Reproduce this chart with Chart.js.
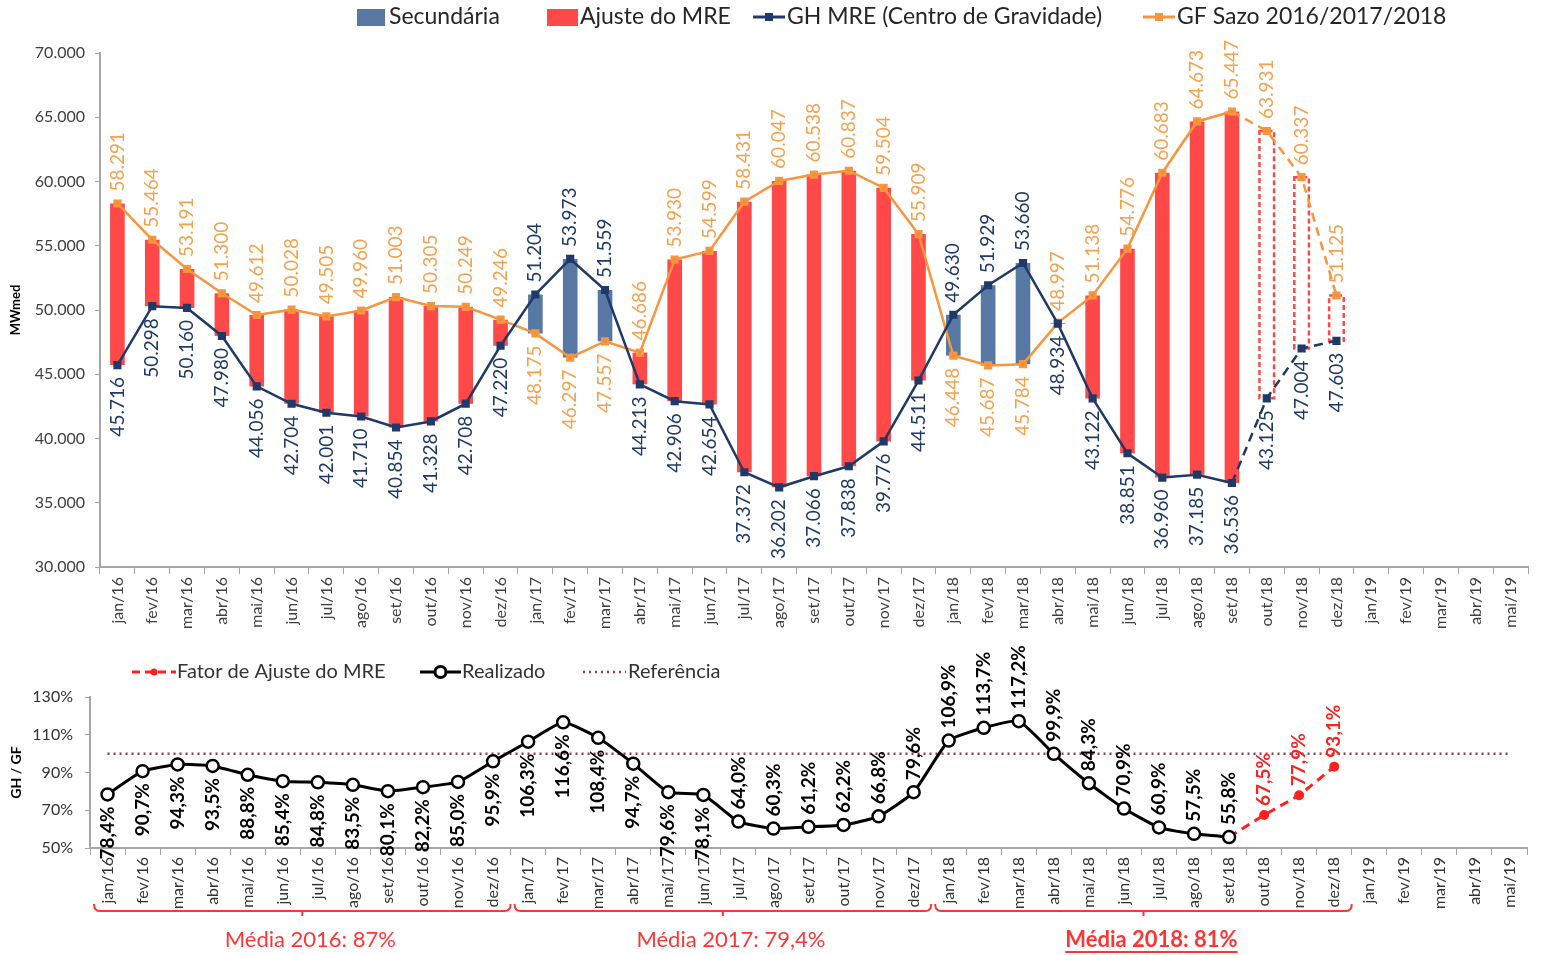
<!doctype html>
<html lang="pt-BR">
<head>
<meta charset="utf-8">
<title>GH MRE x GF Sazo</title>
<script src="https://cdn.jsdelivr.net/npm/chart.js@4.4.1/dist/chart.umd.min.js"></script>
<style>
  html, body { margin: 0; padding: 0; background: #fff; }
  #wrap { position: relative; width: 1542px; height: 955px; overflow: hidden; }
  #topo { position: absolute; left: 0; top: 0; }
  #base { position: absolute; left: 0; top: 645px; }
</style>
</head>
<body>
<div id="wrap">
  <canvas id="topo" width="1542" height="645"></canvas>
  <canvas id="base" width="1542" height="310"></canvas>
</div>
<script>
// meses do eixo x (os dois graficos usam os mesmos)
const meses = ['jan/16','fev/16','mar/16','abr/16','mai/16','jun/16','jul/16','ago/16','set/16','out/16','nov/16','dez/16',
               'jan/17','fev/17','mar/17','abr/17','mai/17','jun/17','jul/17','ago/17','set/17','out/17','nov/17','dez/17',
               'jan/18','fev/18','mar/18','abr/18','mai/18','jun/18','jul/18','ago/18','set/18','out/18','nov/18','dez/18',
               'jan/19','fev/19','mar/19','abr/19','mai/19'];

// MWmed
const gfSazo = [58291, 55464, 53191, 51300, 49612, 50028, 49505, 49960, 51003, 50305, 50249, 49246,
                48175, 46297, 47557, 46686, 53930, 54599, 58431, 60047, 60538, 60837, 59504, 55909,
                46448, 45687, 45784, 48997, 51138, 54776, 60683, 64673, 65447, 63931, 60337, 51125];
const ghMre  = [45716, 50298, 50160, 47980, 44056, 42704, 42001, 41710, 40854, 41328, 42708, 47220,
                51204, 53973, 51559, 44213, 42906, 42654, 37372, 36202, 37066, 37838, 39776, 44511,
                49630, 51929, 53660, 48934, 43122, 38851, 36960, 37185, 36536, 43125, 47004, 47603];
const ultimoRealizado = 32; // set/18, depois disso e projecao

// GH / GF (%)
const realizado = [78.4, 90.7, 94.3, 93.5, 88.8, 85.4, 84.8, 83.5, 80.1, 82.2, 85.0, 95.9,
                   106.3, 116.6, 108.4, 94.7, 79.6, 78.1, 64.0, 60.3, 61.2, 62.2, 66.8, 79.6,
                   106.9, 113.7, 117.2, 99.9, 84.3, 70.9, 60.9, 57.5, 55.8];
const fatorMeses = ['set/18', 'out/18', 'nov/18', 'dez/18'];
const fatorValores = [55.8, 67.5, 77.9, 93.1];
const referencia = 100;

const mediaTextos = ['Média 2016: 87%', 'Média 2017: 79,4%', 'Média 2018: 81%'];
const mediaInicio = ['jan/16', 'jan/17', 'jan/18'];
const mediaFim    = ['dez/16', 'dez/17', 'dez/18'];

const VERMELHO = '#FF4949', AZUL = '#5878A4', MARINHO = '#1F3A68', LARANJA = '#F7963F', LAR_TXT = '#F5A24F';
const FONTE = 'Lato, "Open Sans", sans-serif';

function milhar(n) { return String(n).replace(/\B(?=(\d{3})+(?!\d))/g, '.'); }
function pct(v) { return v.toFixed(1).replace('.', ',') + '%'; }

function rotulo(ctx, x, y, s, acima, cor, d) {
  ctx.save();
  ctx.translate(x, y);
  ctx.rotate(-Math.PI / 2);
  ctx.fillStyle = cor;
  ctx.textBaseline = 'middle';
  ctx.textAlign = acima ? 'left' : 'right';
  ctx.fillText(s, acima ? d : -d, 0);
  ctx.restore();
}

// ---------- grafico de cima ----------
const barrasAjuste = gfSazo.map((v, i) => (i <= ultimoRealizado && v >= ghMre[i]) ? [ghMre[i], v] : null);
const barrasSecund = gfSazo.map((v, i) => (i <= ultimoRealizado && v < ghMre[i]) ? [v, ghMre[i]] : null);
const barrasProj   = gfSazo.map((v, i) => i > ultimoRealizado ? [ghMre[i], v] : null);
const tracejado = c => c.p0DataIndex >= ultimoRealizado ? [9, 6] : undefined;

const barraTracejada = {
  id: 'barraTracejada',
  afterDatasetDraw(chart, args) {
    if (args.index !== 2) return;
    const ctx = chart.ctx;
    ctx.save();
    ctx.strokeStyle = VERMELHO;
    ctx.lineWidth = 2.5;
    ctx.setLineDash([5, 3]);
    args.meta.data.forEach((b, i) => {
      if (!barrasProj[i]) return;
      const t = Math.min(b.y, b.base), h = Math.abs(b.base - b.y);
      ctx.strokeRect(b.x - b.width / 2, t, b.width, h);
    });
    ctx.restore();
  }
};

const rotulosTopo = {
  id: 'rotulosTopo',
  afterDatasetsDraw(chart) {
    const ctx = chart.ctx;
    const gh = chart.getDatasetMeta(3).data;
    const gf = chart.getDatasetMeta(4).data;
    ctx.save();
    ctx.font = '19px ' + FONTE;
    gfSazo.forEach((v, i) => {
      const acima = v >= ghMre[i];
      rotulo(ctx, gf[i].x, gf[i].y, milhar(v), acima, LAR_TXT, 12);
      rotulo(ctx, gh[i].x, gh[i].y, milhar(ghMre[i]), !acima, MARINHO, 12);
    });
    ctx.restore();
  }
};

const legendaTopo = {
  id: 'legendaTopo',
  afterDraw(chart) {
    const ctx = chart.ctx, y = 17;
    ctx.save();
    ctx.font = '23px ' + FONTE;
    ctx.textBaseline = 'middle';
    ctx.fillStyle = AZUL; ctx.fillRect(357, 9, 28, 17);
    ctx.fillStyle = VERMELHO; ctx.fillRect(547, 9, 31, 17);
    [[MARINHO, 753], [LARANJA, 1143]].forEach(([c, x]) => {
      ctx.strokeStyle = c; ctx.lineWidth = 3;
      ctx.beginPath(); ctx.moveTo(x, y); ctx.lineTo(x + 32, y); ctx.stroke();
      ctx.fillStyle = c; ctx.fillRect(x + 12, y - 4, 8, 8);
    });
    ctx.fillStyle = '#262626';
    ctx.fillText('Secundária', 389, y);
    ctx.fillText('Ajuste do MRE', 580, y);
    ctx.fillText('GH MRE (Centro de Gravidade)', 787, y);
    ctx.fillText('GF Sazo 2016/2017/2018', 1177, y);
    ctx.restore();
  }
};

new Chart(document.getElementById('topo'), {
  type: 'bar',
  data: {
    labels: meses,
    datasets: [
      { label: 'Ajuste do MRE', data: barrasAjuste, backgroundColor: VERMELHO, grouped: false, order: 3,
        categoryPercentage: 1, barPercentage: 0.42 },
      { label: 'Secundária', data: barrasSecund, backgroundColor: AZUL, grouped: false, order: 3,
        categoryPercentage: 1, barPercentage: 0.42 },
      { label: 'Projeção', data: barrasProj, backgroundColor: '#ffffff', grouped: false, order: 2,
        categoryPercentage: 1, barPercentage: 0.42 },
      { type: 'line', label: 'GH MRE (Centro de Gravidade)', data: ghMre, borderColor: MARINHO, backgroundColor: MARINHO,
        borderWidth: 2.5, pointStyle: 'rect', pointRadius: 4, order: 1, segment: { borderDash: tracejado } },
      { type: 'line', label: 'GF Sazo 2016/2017/2018', data: gfSazo, borderColor: LARANJA, backgroundColor: '#EE8F36',
        borderWidth: 2.5, pointStyle: 'rect', pointRadius: 4, order: 1, segment: { borderDash: tracejado } }
    ]
  },
  options: {
    responsive: false,
    animation: false,
    devicePixelRatio: 1,
    layout: { padding: { top: 53, right: 14, bottom: 8, left: 0 } },
    plugins: { legend: { display: false }, tooltip: { enabled: false } },
    scales: {
      x: {
        offset: true,
        grid: { display: true, drawOnChartArea: false, offset: true, tickLength: 7, color: '#A6A6A6' },
        border: { color: '#A6A6A6', width: 2 },
        ticks: { autoSkip: false, minRotation: 90, maxRotation: 90, padding: 3, color: '#404040',
                 font: { family: FONTE, size: 16 } },
        afterFit(s) { s.height = 70; }
      },
      y: {
        min: 30000, max: 70000,
        grid: { display: true, drawOnChartArea: false, tickLength: 5, color: '#A6A6A6' },
        border: { color: '#A6A6A6', width: 2 },
        ticks: { stepSize: 5000, padding: 10, color: '#404040', font: { family: FONTE, size: 16 },
                 callback: v => milhar(v) },
        title: { display: true, text: 'MWmed', color: '#000', font: { family: FONTE, size: 13, weight: 'bold' },
                 padding: { top: 8, bottom: 0 } },
        afterFit(s) { s.width = 100; }
      }
    }
  },
  plugins: [barraTracejada, rotulosTopo, legendaTopo]
});

// ---------- grafico de baixo ----------
const rotulosBase = {
  id: 'rotulosBase',
  afterDatasetsDraw(chart) {
    const ctx = chart.ctx;
    const pr = chart.getDatasetMeta(1).data;
    const pf = chart.getDatasetMeta(2).data;
    ctx.save();
    ctx.font = 'bold 19px ' + FONTE;
    realizado.forEach((v, i) => {
      rotulo(ctx, pr[i].x, pr[i].y, pct(v), i >= 18, '#000', 12);
    });
    fatorValores.forEach((v, i) => {
      if (i === 0) return;
      rotulo(ctx, pf[i].x, pf[i].y, pct(v), true, '#FF2020', 9);
    });
    ctx.restore();
  }
};

const legendaBase = {
  id: 'legendaBase',
  afterDraw(chart) {
    const ctx = chart.ctx, y = 27;
    ctx.save();
    ctx.lineWidth = 3;
    // fator
    ctx.strokeStyle = '#FF2020'; ctx.setLineDash([8, 5]);
    ctx.beginPath(); ctx.moveTo(132, y); ctx.lineTo(176, y); ctx.stroke();
    ctx.setLineDash([]);
    ctx.fillStyle = '#FF2020'; ctx.beginPath(); ctx.arc(154, y, 3.5, 0, Math.PI * 2); ctx.fill();
    // realizado
    ctx.strokeStyle = '#000';
    ctx.beginPath(); ctx.moveTo(420, y); ctx.lineTo(461, y); ctx.stroke();
    ctx.fillStyle = '#fff'; ctx.beginPath(); ctx.arc(440.5, y, 5.5, 0, Math.PI * 2); ctx.fill(); ctx.stroke();
    // referencia
    ctx.strokeStyle = '#8E3F45'; ctx.lineWidth = 2.5; ctx.setLineDash([2, 4]);
    ctx.beginPath(); ctx.moveTo(583, y); ctx.lineTo(626, y); ctx.stroke();
    ctx.setLineDash([]);
    ctx.font = '20px ' + FONTE; ctx.fillStyle = '#333'; ctx.textBaseline = 'middle';
    ctx.fillText('Fator de Ajuste do MRE', 177, y);
    ctx.fillText('Realizado', 462, y);
    ctx.fillText('Referência', 628, y);
    ctx.restore();
  }
};

const chavesMedia = {
  id: 'chavesMedia',
  afterDraw(chart) {
    const ctx = chart.ctx, x = chart.scales.x, yl = chart.chartArea.bottom + 63;
    const meio = x.getPixelForValue(1) - x.getPixelForValue(0);
    ctx.save();
    ctx.strokeStyle = '#FF3535'; ctx.fillStyle = '#FF3535'; ctx.lineWidth = 2;
    mediaTextos.forEach((t, k) => {
      const a = x.getPixelForValue(meses.indexOf(mediaInicio[k])) - meio / 2 + 4;
      const b = x.getPixelForValue(meses.indexOf(mediaFim[k])) + meio / 2;
      const c = (a + b) / 2;
      ctx.beginPath();
      ctx.moveTo(a, yl - 7); ctx.quadraticCurveTo(a, yl, a + 6, yl);
      ctx.lineTo(b - 6, yl); ctx.quadraticCurveTo(b, yl, b, yl - 7);
      ctx.moveTo(c, yl); ctx.lineTo(c, yl + 5);
      ctx.stroke();
      ctx.font = (k === 2 ? 'bold ' : '') + '22px ' + FONTE;
      ctx.textAlign = 'center'; ctx.textBaseline = 'middle';
      const ty = chart.chartArea.bottom + 92;
      const tx = c + 8;
      ctx.fillText(t, tx, ty);
      if (k === 2) {
        const w = ctx.measureText(t).width;
        ctx.fillRect(tx - w / 2, ty + 11, w, 2);
      }
    });
    ctx.restore();
  }
};

new Chart(document.getElementById('base'), {
  type: 'line',
  data: {
    labels: meses,
    datasets: [
      { label: 'Referência', data: meses.map(() => referencia), borderColor: '#8E3F45', borderWidth: 2.5,
        borderDash: [2, 4], pointRadius: 0, order: 3 },
      { label: 'Realizado', data: realizado, borderColor: '#000', borderWidth: 3, tension: 0.15,
        pointStyle: 'circle', pointRadius: 6, pointBorderWidth: 2.5, pointBackgroundColor: '#fff',
        pointBorderColor: '#000', order: 1 },
      { label: 'Fator de Ajuste do MRE', data: fatorMeses.map((m, i) => ({ x: m, y: fatorValores[i] })),
        borderColor: '#FF2020', backgroundColor: '#FF2020', borderWidth: 3, borderDash: [9, 6],
        pointRadius: [0, 3.5, 3.5, 3.5], order: 2 }
    ]
  },
  options: {
    responsive: false,
    animation: false,
    devicePixelRatio: 1,
    layout: { padding: { top: 52, right: 15, bottom: 0, left: 0 } },
    plugins: { legend: { display: false }, tooltip: { enabled: false } },
    scales: {
      x: {
        offset: true,
        grid: { display: true, drawOnChartArea: false, offset: true, tickLength: 7, color: '#A6A6A6' },
        border: { color: '#A6A6A6', width: 2 },
        ticks: { autoSkip: false, minRotation: 90, maxRotation: 90, padding: 2, color: '#333',
                 font: { family: FONTE, size: 16 } },
        afterFit(s) { s.height = 107; }
      },
      y: {
        min: 50, max: 130,
        grid: { display: true, drawOnChartArea: false, tickLength: 5, color: '#A6A6A6' },
        border: { color: '#A6A6A6', width: 2 },
        ticks: { stepSize: 20, padding: 12, color: '#333', font: { family: FONTE, size: 16 },
                 callback: v => v + '%' },
        title: { display: true, text: 'GH / GF', color: '#000', font: { family: FONTE, size: 14, weight: 'bold' },
                 padding: { top: 8, bottom: 0 } },
        afterFit(s) { s.width = 90; }
      }
    }
  },
  plugins: [rotulosBase, legendaBase, chavesMedia]
});
</script>
</body>
</html>
